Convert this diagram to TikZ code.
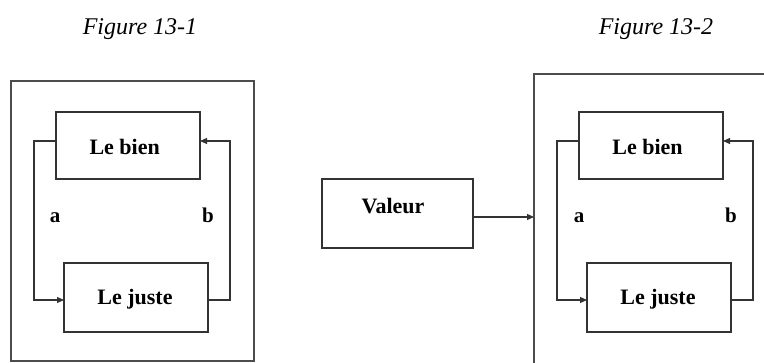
\documentclass[tikz,border=0pt]{standalone}
\usepackage{fontspec}
\setmainfont{Liberation Serif}
\usetikzlibrary{arrows.meta}
\begin{document}
\begin{tikzpicture}[x=1pt,y=-1pt,
  box/.style={draw=black!80,line width=1.1pt,rectangle,inner sep=0pt,outer sep=0pt,minimum width=144pt,minimum height=#1},
  frame/.style={draw=black!70,line width=1.4pt},
  conn/.style={draw=black!80,line width=1.1pt,-{Triangle[length=7pt,width=6pt]}},
  lab/.style={font=\fontsize{22}{24}\selectfont\bfseries,anchor=base,inner sep=0pt},
  side/.style={font=\fontsize{21}{24}\selectfont\bfseries,anchor=base,inner sep=0pt},
  figcap/.style={font=\fontsize{24}{26}\selectfont\itshape,anchor=base,inner sep=0pt}]
\useasboundingbox (0,0) rectangle (764,363);
\clip (0,0) rectangle (764,363);
% titles
\node[figcap] (t1) at (140,35) {Figure 13-1};
\node[figcap] (t2) at (656,35) {Figure 13-2};
% outer frames
\node[frame,rectangle,inner sep=0pt,outer sep=0pt,minimum width=243pt,minimum height=280pt] (outer1) at (132.5,221) {};
\node[frame,rectangle,inner sep=0pt,outer sep=0pt,minimum width=300pt,minimum height=340pt] (outer2) at (684,244) {};
% figure 1
\node[box=67pt] (bien1) at (128,145.5) {};
\node[box=69pt] (juste1) at (136,297.5) {};
\node[lab] (tb1) at (124.7,154.3) {Le bien};
\node[lab] (tj1) at (135,305) {Le juste};
\node[side] (a1) at (55,222.7) {a};
\node[side] (b1) at (208,222.7) {b};
\draw[conn] ([yshift=4.5pt]bien1.west) -- ++(-22pt,0) |- ([yshift=-2.5pt]juste1.west);
\draw[conn] ([yshift=-2.5pt]juste1.east) -- ++(22pt,0) |- ([yshift=4.5pt]bien1.east);
% valeur
\node[box=69pt,minimum width=151pt] (valeur) at (397.5,213.5) {};
\node[lab] (tv) at (393,214) {Valeur};
\coordinate (vo) at ([yshift=-3.5pt]valeur.east);
\draw[conn] (vo) -- (vo -| outer2.west);
% figure 2
\node[box=67pt] (bien2) at (651,145.5) {};
\node[box=69pt] (juste2) at (659,297.5) {};
\node[lab] (tb2) at (647.5,154.3) {Le bien};
\node[lab] (tj2) at (658,305) {Le juste};
\node[side] (a2) at (579,222.7) {a};
\node[side] (b2) at (731,222.7) {b};
\draw[conn] ([yshift=4.5pt]bien2.west) -- ++(-22pt,0) |- ([yshift=-2.5pt]juste2.west);
\draw[conn] ([yshift=-2.5pt]juste2.east) -- ++(22pt,0) |- ([yshift=4.5pt]bien2.east);
\end{tikzpicture}
\end{document}
